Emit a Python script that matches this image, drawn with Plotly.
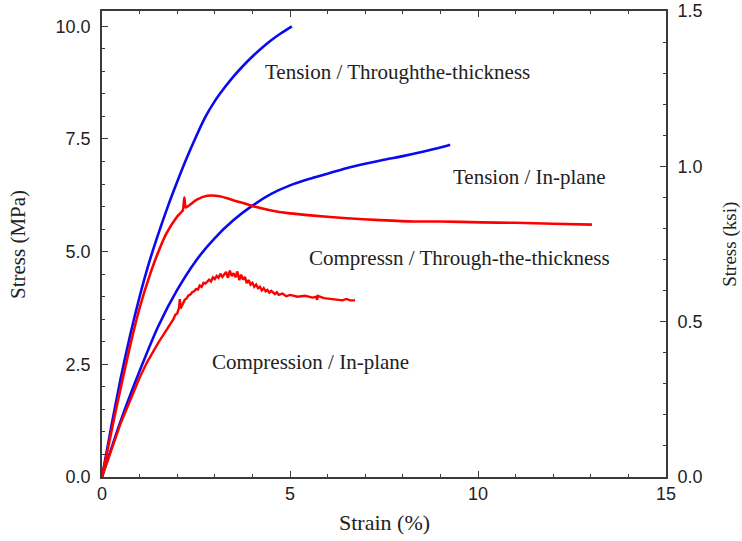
import plotly.graph_objects as go

MPA_PER_KSI = 6.895

# Tension / Through-the-thickness (blue)
tt_strain = [0, 0.25, 0.5, 0.75, 1.0, 1.25, 1.5, 1.75, 2.0, 2.25, 2.5, 2.75, 3.0, 3.25, 3.5, 3.75, 4.0, 4.25, 4.5, 4.75, 5.05]
tt_stress = [0, 1.13, 2.2, 3.15, 4.0, 4.75, 5.4, 6.0, 6.55, 7.07, 7.55, 7.99, 8.34, 8.63, 8.89, 9.12, 9.33, 9.52, 9.69, 9.84, 10.0]

# Tension / In-plane (blue)
tip_strain = [0, 0.5, 1.0, 1.5, 2.0, 2.5, 3.0, 3.5, 4.0, 4.5, 5.0, 5.5, 6.0, 6.5, 7.0, 7.5, 8.0, 8.5, 9.0, 9.26]
tip_stress = [0, 1.25, 2.35, 3.35, 4.15, 4.8, 5.3, 5.7, 6.02, 6.28, 6.47, 6.61, 6.73, 6.85, 6.95, 7.04, 7.12, 7.21, 7.31, 7.37]

# Compression / Through-the-thickness (red)
ctt_strain = [0, 0.36, 0.72, 1.0, 1.3, 1.5, 1.71, 2.0, 2.15, 2.19, 2.23, 2.51, 2.8, 3.13, 3.58, 4.02, 4.47,
              5.0, 5.62, 6.51, 7.4, 8.28, 9.0, 10.06, 11.0, 12.0, 13.03]
ctt_stress = [0, 1.45, 2.81, 3.75, 4.55, 5.0, 5.4, 5.78, 5.92, 6.2, 5.98, 6.15, 6.24, 6.23, 6.12, 6.01, 5.92,
              5.85, 5.8, 5.74, 5.7, 5.67, 5.67, 5.65, 5.64, 5.62, 5.6]

# Compression / In-plane (red, noisy record)
cip_strain = [0, 0.5, 1.0, 1.2, 1.5, 1.8, 1.9, 1.95, 2.0, 2.05, 2.07, 2.09, 2.15, 2.2, 2.25, 2.3, 2.35, 2.4,
              2.45, 2.5, 2.55, 2.6, 2.65, 2.7, 2.75, 2.8, 2.85, 2.9, 2.95, 3.0, 3.05, 3.1, 3.15, 3.2,
              3.25, 3.3, 3.35, 3.4, 3.45, 3.5, 3.55, 3.6, 3.65, 3.7, 3.75, 3.8, 3.85, 3.9, 3.95, 4.0,
              4.05, 4.1, 4.15, 4.2, 4.25, 4.3, 4.35, 4.4, 4.45, 4.5, 4.6, 4.65, 4.7, 4.8, 4.9, 5.0,
              5.2, 5.4, 5.6, 5.7, 5.72, 5.74, 5.9, 6.0, 6.2, 6.4, 6.5, 6.6, 6.73]
cip_stress = [0, 1.2, 2.2, 2.55, 2.98, 3.38, 3.5, 3.6, 3.63, 3.76, 3.95, 3.74, 3.85, 3.93, 3.96, 4.03, 4.05, 4.1,
              4.12, 4.17, 4.16, 4.25, 4.22, 4.31, 4.29, 4.33, 4.38, 4.34, 4.43, 4.39, 4.46, 4.42, 4.51, 4.44,
              4.49, 4.55, 4.42, 4.58, 4.46, 4.52, 4.43, 4.56, 4.37, 4.49, 4.38, 4.44, 4.3, 4.37, 4.27, 4.31,
              4.22, 4.27, 4.19, 4.22, 4.14, 4.19, 4.12, 4.15, 4.09, 4.13, 4.06, 4.1, 4.04, 4.07, 4.01, 4.04,
              4.0, 4.02, 3.98, 4.0, 3.93, 4.02, 3.97, 3.96, 3.95, 3.92, 3.95, 3.92, 3.92]

x_ticks = [0, 5, 10, 15]
y_ticks = [0, 2.5, 5.0, 7.5, 10.0]
y2_ticks = [0, 0.5, 1.0, 1.5]

labels = [
    ("Tension / Throughthe-thickness", 7.87, 8.99),
    ("Tension / In-plane", 11.38, 6.66),
    ("Compressn / Through-the-thickness", 9.50, 4.85),
    ("Compression / In-plane", 5.54, 2.56),
]

BLUE = "rgb(10,10,240)"
RED = "rgb(255,0,0)"
AX = "#3a3a3a"
TICKFONT = dict(family="Liberation Sans, Arial, Helvetica", size=18, color="#222")
SERIF = "Liberation Serif, Times New Roman, serif"

fig = go.Figure()
fig.add_trace(go.Scatter(x=tt_strain, y=tt_stress, mode="lines",
                         line=dict(color=BLUE, width=2.6, shape="spline", smoothing=0.8), name="Tension TT"))
fig.add_trace(go.Scatter(x=tip_strain, y=tip_stress, mode="lines",
                         line=dict(color=BLUE, width=2.6, shape="spline", smoothing=0.8), name="Tension IP"))
fig.add_trace(go.Scatter(x=ctt_strain, y=ctt_stress, mode="lines",
                         line=dict(color=RED, width=2.6, shape="spline", smoothing=0.5), name="Compression TT"))
fig.add_trace(go.Scatter(x=cip_strain, y=cip_stress, mode="lines",
                         line=dict(color=RED, width=2.4), name="Compression IP"))
# same Tension TT record expressed in ksi, drawn invisibly so the right-hand axis is rendered
fig.add_trace(go.Scatter(x=tt_strain, y=[v / MPA_PER_KSI for v in tt_stress], yaxis="y2", mode="lines",
                         line=dict(color="rgba(0,0,0,0)", width=0), hoverinfo="skip", name="ksi"))

for text, x, y in labels:
    fig.add_annotation(x=x, y=y, xref="x", yref="y", text=text, showarrow=False,
                       xanchor="center", yanchor="middle",
                       font=dict(family=SERIF, size=21, color="#222"))

fig.add_annotation(x=-0.149, y=0.5, xref="paper", yref="paper", text="Stress (MPa)", textangle=-90,
                   showarrow=False, xanchor="center", yanchor="middle",
                   font=dict(family=SERIF, size=21, color="#222"))
fig.add_annotation(x=1.113, y=0.5, xref="paper", yref="paper", text="Stress (ksi)", textangle=-90,
                   showarrow=False, xanchor="center", yanchor="middle",
                   font=dict(family=SERIF, size=19, color="#222"))
fig.add_annotation(x=0.5, y=-0.098, xref="paper", yref="paper", text="Strain (%)",
                   showarrow=False, xanchor="center", yanchor="middle",
                   font=dict(family=SERIF, size=22, color="#222"))

fig.update_layout(
    width=742, height=541,
    margin=dict(l=102, r=76, t=11, b=64, autoexpand=False),
    paper_bgcolor="white", plot_bgcolor="white",
    showlegend=False,
    xaxis=dict(range=[0, 15], tickvals=x_ticks, ticktext=[str(v) for v in x_ticks],
               ticks="inside", ticklen=6, tickwidth=1.2, tickcolor=AX, automargin=False,
               showline=True, linecolor=AX, linewidth=1.6, mirror="ticks",
               showgrid=False, zeroline=False, tickfont=TICKFONT,
               minor=dict(dtick=1, ticks="inside", ticklen=3.5, tickcolor=AX, tickwidth=1, showgrid=False)),
    yaxis=dict(range=[0, 10.34], tickvals=y_ticks, ticktext=[f"{v:.1f}" for v in y_ticks],
               ticks="inside", ticklen=6, tickwidth=1.2, tickcolor=AX, automargin=False,
               showline=True, linecolor=AX, linewidth=1.6, mirror=False,
               showgrid=False, zeroline=False, tickfont=TICKFONT, ticklabelstandoff=6,
               minor=dict(dtick=0.5, ticks="inside", ticklen=3.5, tickcolor=AX, tickwidth=1, showgrid=False)),
    yaxis2=dict(range=[0, 1.5], overlaying="y", side="right", tickvals=y2_ticks,
                ticktext=[f"{v:.1f}" for v in y2_ticks], automargin=False,
                ticks="inside", ticklen=6, tickwidth=1.2, tickcolor=AX,
                showline=True, linecolor=AX, linewidth=1.6,
                showgrid=False, zeroline=False, tickfont=TICKFONT, ticklabelstandoff=6,
                minor=dict(dtick=0.1, ticks="inside", ticklen=3.5, tickcolor=AX, tickwidth=1, showgrid=False)),
)

fig.write_html("out.html")
